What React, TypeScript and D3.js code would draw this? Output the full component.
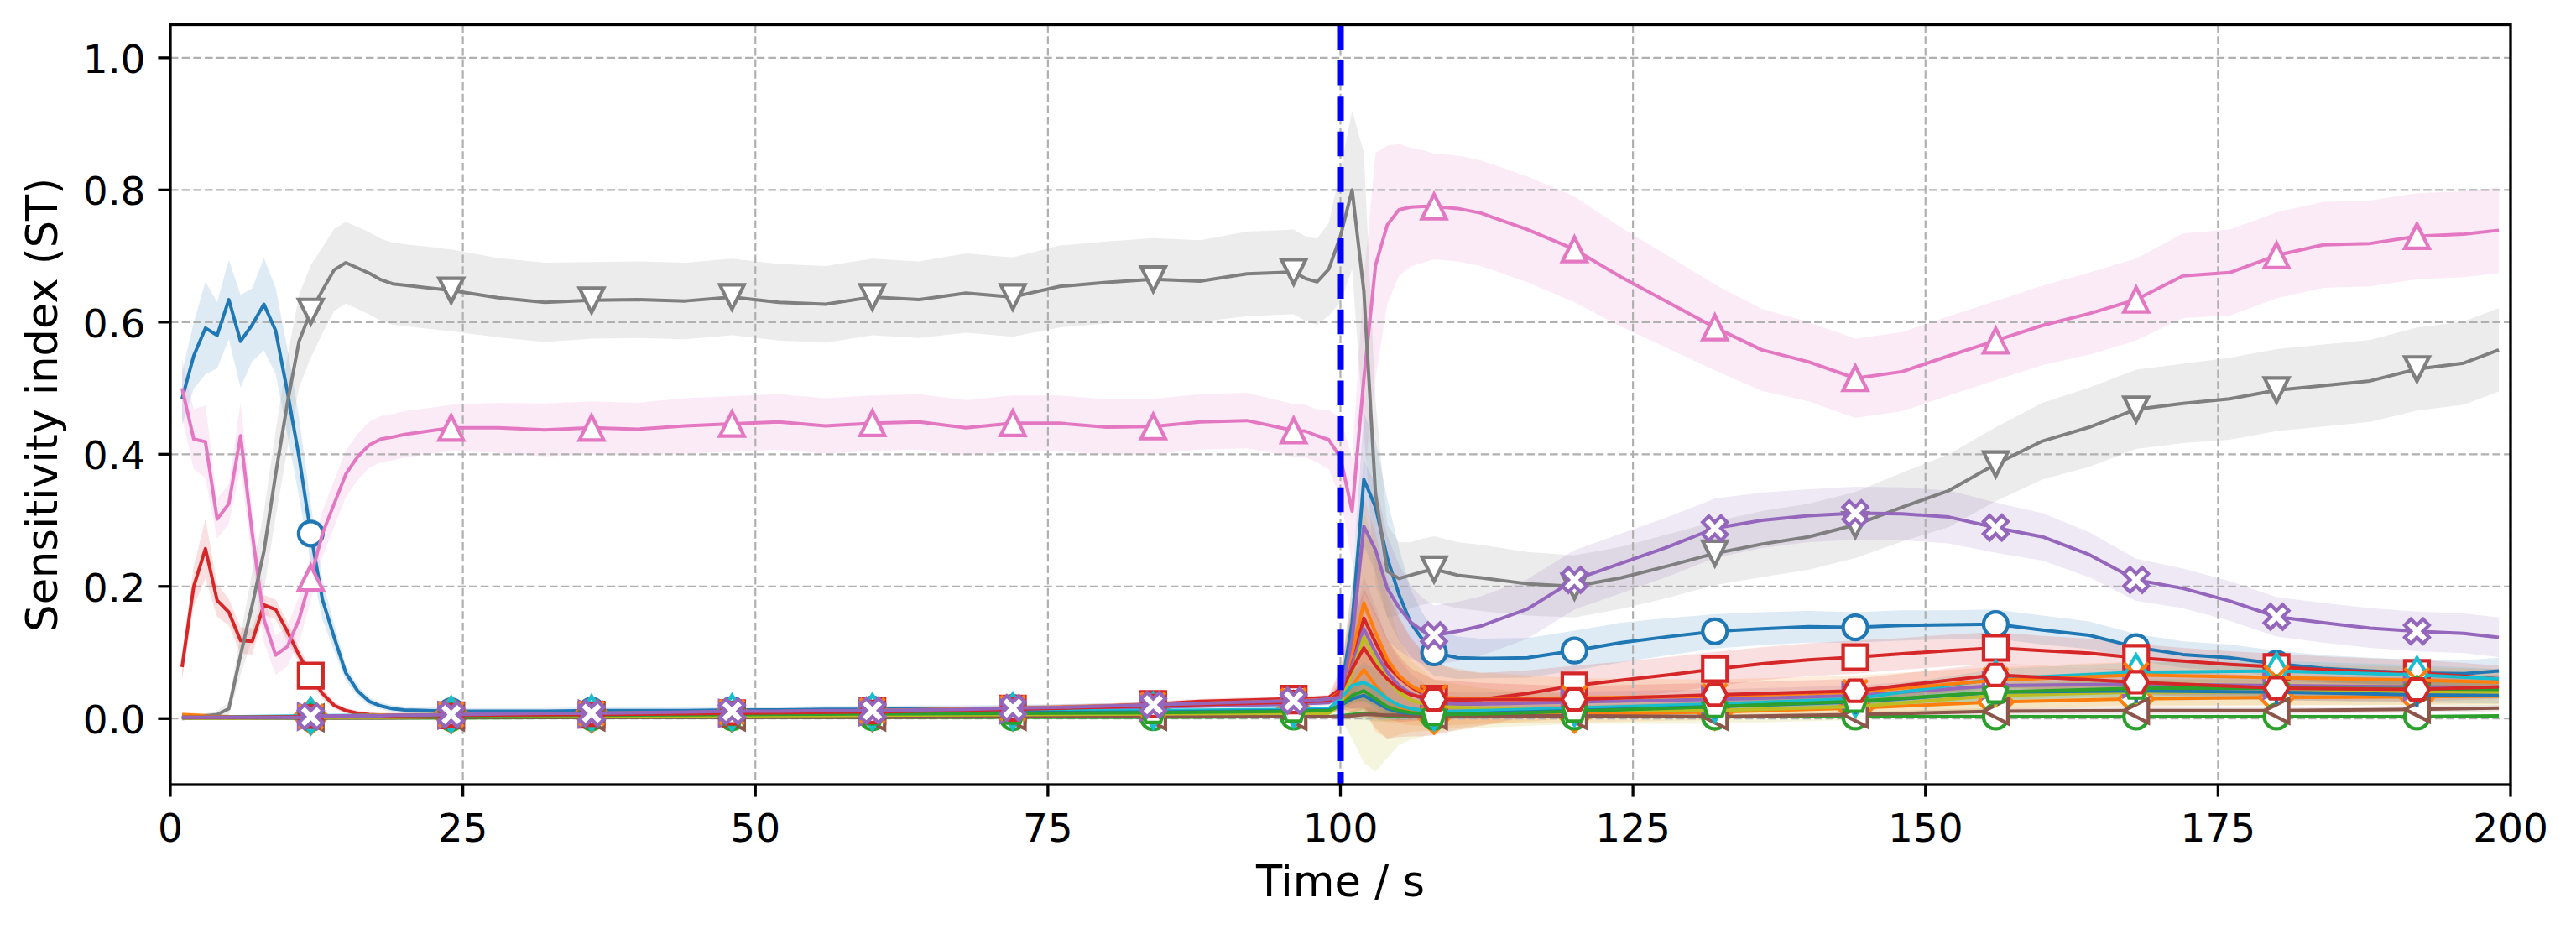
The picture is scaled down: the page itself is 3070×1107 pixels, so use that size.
import * as React from 'react';
import {useEffect} from 'react';
import * as d3 from 'd3';

// time grids (s)
const tMain = [1, 2, 3, 4, 5, 6, 7, 8, 9, 10, 11, 12, 13, 14, 15, 16, 17, 18, 19, 20,
    24, 28, 32, 36, 40, 44, 48, 52, 56, 60, 64, 68, 72, 76, 80, 84, 88, 92, 96,
    97, 98, 99, 100, 101, 102, 103, 104, 105, 106, 107, 108, 110, 112,
    116, 120, 124, 128, 132, 136, 140, 144, 148, 152, 156, 160, 164, 168, 172, 176, 180, 184, 188, 192, 196,
    199];
const tLow = [1, 6, 12, 18, 24, 36, 48, 60, 72, 84, 96, 99, 100, 101, 102, 103, 104, 105, 106, 108, 112,
    120, 132, 144, 156, 168, 180, 192, 199];

// main parameters
const blueO = [0.484, 0.549, 0.591, 0.580, 0.634, 0.571, 0.596, 0.627, 0.587, 0.495, 0.396, 0.280, 0.180, 0.123, 0.069, 0.042, 0.026, 0.019, 0.015, 0.013,
    0.011, 0.011, 0.011, 0.012, 0.012, 0.012, 0.013, 0.013, 0.014, 0.014, 0.015, 0.015, 0.016, 0.017, 0.018, 0.019, 0.020, 0.021, 0.022,
    0.023, 0.024, 0.025, 0.036, 0.145, 0.362, 0.320, 0.243, 0.188, 0.145, 0.120, 0.100, 0.092, 0.091,
    0.092, 0.103, 0.115, 0.124, 0.132, 0.136, 0.139, 0.138, 0.141, 0.142, 0.143, 0.134, 0.126, 0.108, 0.097, 0.092, 0.083, 0.076, 0.072, 0.069, 0.068,
    0.072];
const blueOCi = [0.04, 0.05, 0.07, 0.05, 0.06, 0.07, 0.055, 0.07, 0.065, 0.065, 0.06, 0.045, 0.03, 0.02, 0.012, 0.008, 0.006, 0.005, 0.005, 0.005,
    0.005, 0.005, 0.005, 0.005, 0.005, 0.005, 0.005, 0.005, 0.005, 0.005, 0.005, 0.005, 0.005, 0.005, 0.005, 0.005, 0.005, 0.005, 0.005,
    0.005, 0.005, 0.005, 0.02, 0.06, 0.10, 0.10, 0.09, 0.07, 0.05, 0.04, 0.035, 0.032, 0.03,
    0.03, 0.03, 0.03, 0.028, 0.026, 0.025, 0.024, 0.023, 0.023, 0.022, 0.022, 0.022, 0.021, 0.02, 0.02, 0.02, 0.02, 0.02, 0.02, 0.02, 0.02,
    0.02];

const redS = [0.078, 0.200, 0.257, 0.179, 0.161, 0.118, 0.117, 0.172, 0.165, 0.132, 0.096, 0.065, 0.038, 0.020, 0.012, 0.008, 0.006, 0.005, 0.005, 0.005,
    0.005, 0.005, 0.006, 0.006, 0.007, 0.007, 0.008, 0.009, 0.010, 0.011, 0.012, 0.013, 0.015, 0.017, 0.019, 0.022, 0.026, 0.028, 0.030,
    0.030, 0.031, 0.032, 0.045, 0.090, 0.152, 0.115, 0.080, 0.062, 0.048, 0.038, 0.030, 0.028, 0.029,
    0.038, 0.050, 0.058, 0.066, 0.075, 0.083, 0.089, 0.093, 0.098, 0.103, 0.107, 0.103, 0.099, 0.092, 0.087, 0.082, 0.078, 0.074, 0.071, 0.069, 0.064,
    0.060];
const redSCi = [0.02, 0.03, 0.045, 0.025, 0.02, 0.02, 0.02, 0.015, 0.015, 0.015, 0.012, 0.01, 0.008, 0.005, 0.004, 0.004, 0.004, 0.004, 0.004, 0.004,
    0.004, 0.004, 0.004, 0.004, 0.004, 0.004, 0.004, 0.004, 0.004, 0.004, 0.004, 0.004, 0.004, 0.004, 0.004, 0.004, 0.004, 0.004, 0.004,
    0.004, 0.004, 0.004, 0.03, 0.08, 0.14, 0.13, 0.11, 0.09, 0.075, 0.065, 0.055, 0.045, 0.04,
    0.035, 0.03, 0.028, 0.027, 0.026, 0.025, 0.025, 0.025, 0.024, 0.024, 0.024, 0.022, 0.022, 0.021, 0.02, 0.02, 0.02, 0.02, 0.02, 0.02, 0.02,
    0.02];

const pinkT = [0.500, 0.423, 0.419, 0.302, 0.325, 0.428, 0.280, 0.150, 0.096, 0.109, 0.150, 0.213, 0.280, 0.325, 0.370, 0.396, 0.414, 0.423, 0.426, 0.430,
    0.440, 0.440, 0.437, 0.440, 0.438, 0.443, 0.446, 0.449, 0.443, 0.447, 0.449, 0.440, 0.447, 0.447, 0.441, 0.442, 0.449, 0.451, 0.436,
    0.435, 0.428, 0.422, 0.395, 0.314, 0.514, 0.686, 0.747, 0.770, 0.774, 0.775, 0.775, 0.772, 0.765,
    0.740, 0.710, 0.668, 0.630, 0.592, 0.558, 0.540, 0.515, 0.525, 0.549, 0.572, 0.595, 0.613, 0.634, 0.670, 0.675, 0.701, 0.717, 0.719, 0.730, 0.733,
    0.739];
const pinkTCi = [0.045, 0.045, 0.055, 0.03, 0.03, 0.05, 0.04, 0.035, 0.03, 0.03, 0.035, 0.035, 0.035, 0.035, 0.035, 0.035, 0.035, 0.035, 0.035, 0.035,
    0.035, 0.038, 0.04, 0.04, 0.04, 0.042, 0.042, 0.042, 0.042, 0.042, 0.042, 0.042, 0.042, 0.042, 0.042, 0.042, 0.042, 0.042, 0.04,
    0.04, 0.04, 0.045, 0.06, 0.08, 0.15, 0.17, 0.12, 0.10, 0.09, 0.085, 0.08, 0.08, 0.08,
    0.08, 0.08, 0.075, 0.07, 0.065, 0.062, 0.06, 0.06, 0.06, 0.06, 0.06, 0.06, 0.062, 0.062, 0.064, 0.065, 0.065, 0.065, 0.065, 0.065, 0.065,
    0.065];

const grayV = [0.000, 0.001, 0.004, 0.006, 0.015, 0.096, 0.172, 0.253, 0.370, 0.477, 0.571, 0.616, 0.648, 0.679, 0.690, 0.682, 0.674, 0.664, 0.658, 0.656,
    0.648, 0.637, 0.630, 0.633, 0.634, 0.632, 0.638, 0.630, 0.627, 0.638, 0.634, 0.644, 0.638, 0.654, 0.660, 0.665, 0.662, 0.673, 0.676,
    0.666, 0.661, 0.680, 0.730, 0.800, 0.647, 0.340, 0.223, 0.212, 0.217, 0.222, 0.226, 0.217, 0.213,
    0.204, 0.200, 0.213, 0.231, 0.250, 0.264, 0.275, 0.293, 0.320, 0.345, 0.385, 0.420, 0.441, 0.468, 0.477, 0.484, 0.497, 0.504, 0.511, 0.529, 0.538,
    0.558];
const grayVCi = [0.002, 0.003, 0.004, 0.005, 0.01, 0.03, 0.05, 0.06, 0.065, 0.07, 0.07, 0.07, 0.065, 0.062, 0.062, 0.062, 0.062, 0.062, 0.062, 0.062,
    0.062, 0.06, 0.06, 0.058, 0.058, 0.058, 0.058, 0.058, 0.058, 0.058, 0.058, 0.06, 0.06, 0.062, 0.062, 0.062, 0.062, 0.064, 0.064,
    0.064, 0.065, 0.07, 0.10, 0.12, 0.21, 0.14, 0.07, 0.055, 0.05, 0.05, 0.05, 0.05, 0.05,
    0.048, 0.047, 0.047, 0.048, 0.048, 0.05, 0.05, 0.05, 0.052, 0.055, 0.056, 0.058, 0.06, 0.06, 0.06, 0.062, 0.062, 0.062, 0.062, 0.063, 0.063,
    0.063];

const purpleX = [0.002, 0.002, 0.002, 0.002, 0.002, 0.002, 0.002, 0.002, 0.002, 0.002, 0.002, 0.003, 0.004, 0.004, 0.004, 0.004, 0.004, 0.004, 0.005, 0.005,
    0.006, 0.007, 0.008, 0.008, 0.009, 0.010, 0.011, 0.011, 0.012, 0.012, 0.013, 0.014, 0.016, 0.017, 0.019, 0.021, 0.023, 0.025, 0.027,
    0.027, 0.028, 0.030, 0.032, 0.120, 0.291, 0.255, 0.197, 0.168, 0.146, 0.133, 0.126, 0.132, 0.140,
    0.166, 0.210, 0.235, 0.260, 0.288, 0.300, 0.307, 0.311, 0.310, 0.305, 0.289, 0.275, 0.248, 0.210, 0.197, 0.178, 0.154, 0.145, 0.137, 0.132, 0.129,
    0.123];
const purpleXCi = [0.003, 0.003, 0.003, 0.003, 0.003, 0.003, 0.003, 0.003, 0.003, 0.003, 0.003, 0.003, 0.003, 0.003, 0.003, 0.003, 0.003, 0.003, 0.003, 0.003,
    0.004, 0.004, 0.004, 0.004, 0.004, 0.004, 0.004, 0.004, 0.004, 0.004, 0.004, 0.004, 0.004, 0.004, 0.004, 0.004, 0.004, 0.004, 0.004,
    0.004, 0.004, 0.005, 0.01, 0.06, 0.10, 0.10, 0.08, 0.065, 0.055, 0.05, 0.045, 0.045, 0.045,
    0.045, 0.045, 0.045, 0.045, 0.045, 0.042, 0.04, 0.04, 0.04, 0.04, 0.038, 0.036, 0.034, 0.032, 0.03, 0.03, 0.03, 0.03, 0.03, 0.03, 0.03,
    0.03];

// minor parameters (on tLow)
const orangeD = [0.006, 0.002, 0.003, 0.004, 0.005, 0.006, 0.007, 0.008, 0.009, 0.011, 0.013, 0.014, 0.020, 0.050, 0.074, 0.050, 0.030, 0.018, 0.010, 0.004, 0.004, 0.006, 0.010, 0.016, 0.025, 0.030, 0.032, 0.033, 0.034];
const orangeDCi = [0.004, 0.002, 0.002, 0.002, 0.002, 0.002, 0.002, 0.002, 0.003, 0.003, 0.003, 0.003, 0.01, 0.04, 0.06, 0.05, 0.035, 0.025, 0.02, 0.015, 0.012, 0.012, 0.012, 0.012, 0.012, 0.012, 0.012, 0.012, 0.012];
const greenO = [0.001, 0.001, 0.001, 0.001, 0.001, 0.002, 0.002, 0.002, 0.002, 0.002, 0.003, 0.003, 0.004, 0.006, 0.008, 0.006, 0.004, 0.003, 0.003, 0.003, 0.003, 0.003, 0.003, 0.003, 0.003, 0.003, 0.003, 0.003, 0.004];
const greenOCi = [0.001, 0.001, 0.001, 0.001, 0.001, 0.001, 0.001, 0.001, 0.001, 0.001, 0.001, 0.002, 0.003, 0.006, 0.01, 0.01, 0.008, 0.006, 0.004, 0.003, 0.003, 0.003, 0.003, 0.003, 0.003, 0.003, 0.003, 0.003, 0.003];
const purpleTri = [0.002, 0.002, 0.003, 0.004, 0.005, 0.007, 0.008, 0.010, 0.013, 0.017, 0.022, 0.024, 0.035, 0.080, 0.136, 0.100, 0.070, 0.050, 0.038, 0.022, 0.022, 0.025, 0.029, 0.035, 0.050, 0.052, 0.050, 0.048, 0.047];
const purpleTriCi = [0.002, 0.002, 0.002, 0.002, 0.002, 0.002, 0.002, 0.002, 0.002, 0.002, 0.002, 0.002, 0.01, 0.05, 0.08, 0.07, 0.05, 0.04, 0.03, 0.02, 0.018, 0.016, 0.015, 0.015, 0.015, 0.015, 0.015, 0.015, 0.015];
const brownL = [0.001, 0.001, 0.001, 0.001, 0.002, 0.002, 0.002, 0.002, 0.003, 0.003, 0.003, 0.003, 0.003, 0.004, 0.006, 0.006, 0.005, 0.005, 0.004, 0.004, 0.004, 0.004, 0.003, 0.006, 0.011, 0.012, 0.012, 0.014, 0.016];
const brownLCi = [0.001, 0.001, 0.001, 0.001, 0.001, 0.001, 0.001, 0.001, 0.001, 0.001, 0.001, 0.001, 0.002, 0.004, 0.006, 0.006, 0.005, 0.004, 0.004, 0.003, 0.003, 0.003, 0.003, 0.004, 0.005, 0.005, 0.005, 0.005, 0.005];
const oliveTri = [0.001, 0.001, 0.002, 0.002, 0.003, 0.003, 0.004, 0.005, 0.006, 0.007, 0.008, 0.008, 0.020, 0.070, 0.123, 0.090, 0.060, 0.040, 0.028, 0.018, 0.016, 0.014, 0.012, 0.018, 0.035, 0.040, 0.040, 0.040, 0.040];
const oliveTriCi = [0.002, 0.002, 0.002, 0.002, 0.002, 0.002, 0.002, 0.002, 0.002, 0.002, 0.002, 0.002, 0.02, 0.1, 0.19, 0.17, 0.12, 0.08, 0.06, 0.04, 0.03, 0.022, 0.02, 0.02, 0.02, 0.02, 0.02, 0.02, 0.02];
const cyanD = [0.002, 0.003, 0.004, 0.005, 0.006, 0.008, 0.009, 0.010, 0.011, 0.012, 0.014, 0.015, 0.030, 0.050, 0.055, 0.045, 0.030, 0.020, 0.015, 0.010, 0.012, 0.016, 0.022, 0.030, 0.060, 0.070, 0.072, 0.066, 0.060];
const cyanDCi = [0.002, 0.002, 0.002, 0.002, 0.002, 0.002, 0.002, 0.002, 0.002, 0.002, 0.002, 0.002, 0.01, 0.02, 0.03, 0.03, 0.025, 0.02, 0.015, 0.012, 0.01, 0.01, 0.01, 0.012, 0.015, 0.015, 0.015, 0.015, 0.015];
const bluePlus = [0.002, 0.002, 0.003, 0.004, 0.005, 0.006, 0.007, 0.008, 0.009, 0.010, 0.012, 0.013, 0.020, 0.030, 0.035, 0.025, 0.015, 0.010, 0.008, 0.007, 0.008, 0.012, 0.018, 0.025, 0.040, 0.042, 0.040, 0.036, 0.035];
const bluePlusCi = [0.002, 0.002, 0.002, 0.002, 0.002, 0.002, 0.002, 0.002, 0.002, 0.002, 0.002, 0.002, 0.008, 0.015, 0.02, 0.02, 0.015, 0.012, 0.01, 0.008, 0.008, 0.008, 0.008, 0.01, 0.012, 0.012, 0.012, 0.012, 0.012];
const orangeX = [0.004, 0.002, 0.003, 0.005, 0.006, 0.008, 0.010, 0.012, 0.016, 0.021, 0.027, 0.029, 0.040, 0.100, 0.175, 0.130, 0.090, 0.065, 0.050, 0.032, 0.030, 0.031, 0.034, 0.040, 0.058, 0.066, 0.062, 0.058, 0.055];
const orangeXCi = [0.003, 0.003, 0.003, 0.003, 0.003, 0.003, 0.003, 0.003, 0.003, 0.003, 0.003, 0.003, 0.03, 0.10, 0.16, 0.15, 0.12, 0.09, 0.07, 0.05, 0.04, 0.03, 0.025, 0.025, 0.02, 0.02, 0.02, 0.02, 0.02];
const greenP = [0.002, 0.002, 0.003, 0.003, 0.004, 0.005, 0.006, 0.007, 0.008, 0.009, 0.011, 0.012, 0.020, 0.035, 0.042, 0.030, 0.018, 0.012, 0.009, 0.006, 0.007, 0.011, 0.018, 0.026, 0.040, 0.046, 0.046, 0.045, 0.044];
const greenPCi = [0.002, 0.002, 0.002, 0.002, 0.002, 0.002, 0.002, 0.002, 0.002, 0.002, 0.002, 0.002, 0.008, 0.012, 0.015, 0.012, 0.01, 0.008, 0.007, 0.006, 0.006, 0.006, 0.008, 0.01, 0.012, 0.012, 0.012, 0.012, 0.012];
const redH = [0.002, 0.002, 0.003, 0.004, 0.005, 0.006, 0.008, 0.010, 0.014, 0.019, 0.025, 0.027, 0.040, 0.075, 0.107, 0.080, 0.060, 0.045, 0.036, 0.029, 0.029, 0.029, 0.036, 0.042, 0.066, 0.055, 0.046, 0.044, 0.048];
const redHCi = [0.002, 0.002, 0.002, 0.002, 0.002, 0.002, 0.002, 0.002, 0.002, 0.002, 0.002, 0.002, 0.02, 0.06, 0.09, 0.08, 0.06, 0.05, 0.04, 0.03, 0.025, 0.02, 0.018, 0.018, 0.018, 0.018, 0.018, 0.018, 0.018];

const xTicks = [0, 25, 50, 75, 100, 125, 150, 175, 200];
const yTicks = [0.0, 0.2, 0.4, 0.6, 0.8, 1.0];
const eventTime = 100;

const W = 3070, H = 1107;
const margin = {top: 29.5, right: 78, bottom: 172, left: 203};

const C = {
    blue: '#1f77b4', orange: '#ff7f0e', green: '#2ca02c', red: '#d62728', purple: '#9467bd',
    brown: '#8c564b', pink: '#e377c2', gray: '#7f7f7f', olive: '#bcbd22', cyan: '#17becf',
};

const series = [
    {t: tMain, v: blueO, ci: blueOCi, color: C.blue, marker: 'o'},
    {t: tLow, v: orangeD, ci: orangeDCi, color: C.orange, marker: 'D'},
    {t: tLow, v: greenO, ci: greenOCi, color: C.green, marker: 'o'},
    {t: tMain, v: redS, ci: redSCi, color: C.red, marker: 's'},
    {t: tLow, v: purpleTri, ci: purpleTriCi, color: C.purple, marker: '>'},
    {t: tLow, v: brownL, ci: brownLCi, color: C.brown, marker: '<'},
    {t: tMain, v: pinkT, ci: pinkTCi, color: C.pink, marker: '^'},
    {t: tMain, v: grayV, ci: grayVCi, color: C.gray, marker: 'v'},
    {t: tLow, v: oliveTri, ci: oliveTriCi, color: C.olive, marker: '1'},
    {t: tLow, v: cyanD, ci: cyanDCi, color: C.cyan, marker: 'd'},
    {t: tLow, v: bluePlus, ci: bluePlusCi, color: C.blue, marker: '+'},
    {t: tLow, v: orangeX, ci: orangeXCi, color: C.orange, marker: 'x'},
    {t: tLow, v: greenP, ci: greenPCi, color: C.green, marker: 'p'},
    {t: tLow, v: redH, ci: redHCi, color: C.red, marker: 'H'},
    {t: tMain, v: purpleX, ci: purpleXCi, color: C.purple, marker: 'X'},
];

const MS = 29;
const MEW = 4.2;

function poly(pts: number[][]) {
    return 'M' + pts.map(p => p[0].toFixed(2) + ',' + p[1].toFixed(2)).join('L') + 'Z';
}

function regular(n: number, r: number, start: number) {
    const pts: number[][] = [];
    for (let i = 0; i < n; i++) {
        const a = start + i * 2 * Math.PI / n;
        pts.push([r * Math.cos(a), r * Math.sin(a)]);
    }
    return poly(pts);
}

// returns [path, filled]
function markerShape(m: string, s: number): [string, boolean] {
    const h = s / 2;
    switch (m) {
        case 's': return [poly([[-h, -h], [h, -h], [h, h], [-h, h]]), true];
        case '^': return [poly([[0, -h], [h, h], [-h, h]]), true];
        case 'v': return [poly([[0, h], [h, -h], [-h, -h]]), true];
        case '<': return [poly([[-h, 0], [h, -h], [h, h]]), true];
        case '>': return [poly([[h, 0], [-h, -h], [-h, h]]), true];
        case 'D': { const r = s * 0.707; return [poly([[0, -r], [r, 0], [0, r], [-r, 0]]), true]; }
        case 'd': { const r = s * 0.707; return [poly([[0, -r], [r * 0.6, 0], [0, r], [-r * 0.6, 0]]), true]; }
        case 'H': return [regular(6, h, 0), true];
        case 'p': return [regular(5, h, -Math.PI / 2), true];
        case 'X': {
            const q = s / 4;
            const raw = [[-1, -2], [0, -1], [1, -2], [2, -1], [1, 0], [2, 1], [1, 2], [0, 1], [-1, 2], [-2, 1], [-1, 0], [-2, -1]];
            return [poly(raw.map(p => [p[0] * q, p[1] * q])), true];
        }
        case '+': return [`M${-h},0L${h},0M0,${-h}L0,${h}`, false];
        case 'x': return [`M${-h},${-h}L${h},${h}M${-h},${h}L${h},${-h}`, false];
        case '1': return [`M0,0L0,${h}M0,0L${0.8 * h},${-0.5 * h}M0,0L${-0.8 * h},${-0.5 * h}`, false];
        default: return ['', true];
    }
}

function Marker({m, x, y, color}: {m: string, x: number, y: number, color: string}) {
    if (m === 'o') {
        return <circle cx={x} cy={y} r={MS / 2} fill="white" stroke={color} strokeWidth={MEW}/>;
    }
    const [d, filled] = markerShape(m, MS);
    return <path d={d} transform={`translate(${x},${y})`} fill={filled ? 'white' : 'none'}
                 stroke={color} strokeWidth={MEW} strokeLinejoin="miter"/>;
}

export default function App() {
    useEffect(() => {
        document.body.style.margin = '0';
    }, []);

    const x = d3.scaleLinear().domain([0, 200]).range([margin.left, W - margin.right]);
    const y = d3.scaleLinear().domain([-0.1, 1.05]).range([H - margin.bottom, margin.top]);
    const x0 = x.range()[0], x1 = x.range()[1];
    const yTop = y.range()[1], yBot = y.range()[0];

    const line = (t: number[], v: number[]) =>
        d3.line<number>().x((_, i) => x(t[i])).y(d => y(d))(v) || '';
    const band = (t: number[], v: number[], ci: number[]) =>
        d3.area<number>().x((_, i) => x(t[i])).y0((d, i) => y(d - ci[i])).y1((d, i) => y(d + ci[i]))(v) || '';

    const font = 'DejaVu Sans, sans-serif';
    const fmt = d3.format('.1f');

    return (
        <svg width={W} height={H} style={{display: 'block'}} fontFamily={font}>
            <defs>
                <clipPath id="plot">
                    <rect x={x0} y={yTop} width={x1 - x0} height={yBot - yTop}/>
                </clipPath>
            </defs>
            <rect width={W} height={H} fill="white"/>

            <g clipPath="url(#plot)">
                {series.map((s, i) => (
                    <path key={'b' + i} d={band(s.t, s.v, s.ci)} fill={s.color} fillOpacity={0.15} stroke="none"/>
                ))}
            </g>

            {/* grid */}
            <g stroke="#b0b0b0" strokeWidth={2.2} strokeDasharray="9.5,4.2">
                {xTicks.map(t => <line key={'gx' + t} x1={x(t)} x2={x(t)} y1={yTop} y2={yBot}/>)}
                {yTicks.map(t => <line key={'gy' + t} x1={x0} x2={x1} y1={y(t)} y2={y(t)}/>)}
            </g>

            <g clipPath="url(#plot)">
                {series.map((s, i) => (
                    <g key={'s' + i}>
                        <path d={line(s.t, s.v)} fill="none" stroke={s.color} strokeWidth={4}
                              strokeLinejoin="round" strokeLinecap="butt"/>
                        {s.t.map((t, j) => (t % 12 === 0 ?
                            <Marker key={j} m={s.marker} x={x(t)} y={y(s.v[j])} color={s.color}/> : null))}
                    </g>
                ))}
            </g>

            {/* event line */}
            <line x1={x(eventTime)} x2={x(eventTime)} y1={yTop} y2={yBot} stroke="#0000ff"
                  strokeWidth={8} strokeDasharray="29.6,12.8"/>

            {/* spines */}
            <rect x={x0} y={yTop} width={x1 - x0} height={yBot - yTop} fill="none" stroke="black" strokeWidth={3.3}/>

            {/* ticks */}
            <g stroke="black" strokeWidth={3.3}>
                {xTicks.map(t => <line key={'tx' + t} x1={x(t)} x2={x(t)} y1={yBot} y2={yBot + 14.6}/>)}
                {yTicks.map(t => <line key={'ty' + t} x1={x0 - 14.6} x2={x0} y1={y(t)} y2={y(t)}/>)}
            </g>
            <g fontSize={47} fill="black">
                {xTicks.map(t => (
                    <text key={'lx' + t} x={x(t)} y={1003} textAnchor="middle">{t}</text>
                ))}
                {yTicks.map(t => (
                    <text key={'ly' + t} x={x0 - 29.5} y={y(t) + 18} textAnchor="end">{fmt(t)}</text>
                ))}
            </g>

            <text x={(x0 + x1) / 2} y={1068} textAnchor="middle" fontSize={51}>Time / s</text>
            <text transform={`translate(68,${(yTop + yBot) / 2}) rotate(-90)`} textAnchor="middle" fontSize={51}>
                Sensitivity index (ST)
            </text>
        </svg>
    );
}
